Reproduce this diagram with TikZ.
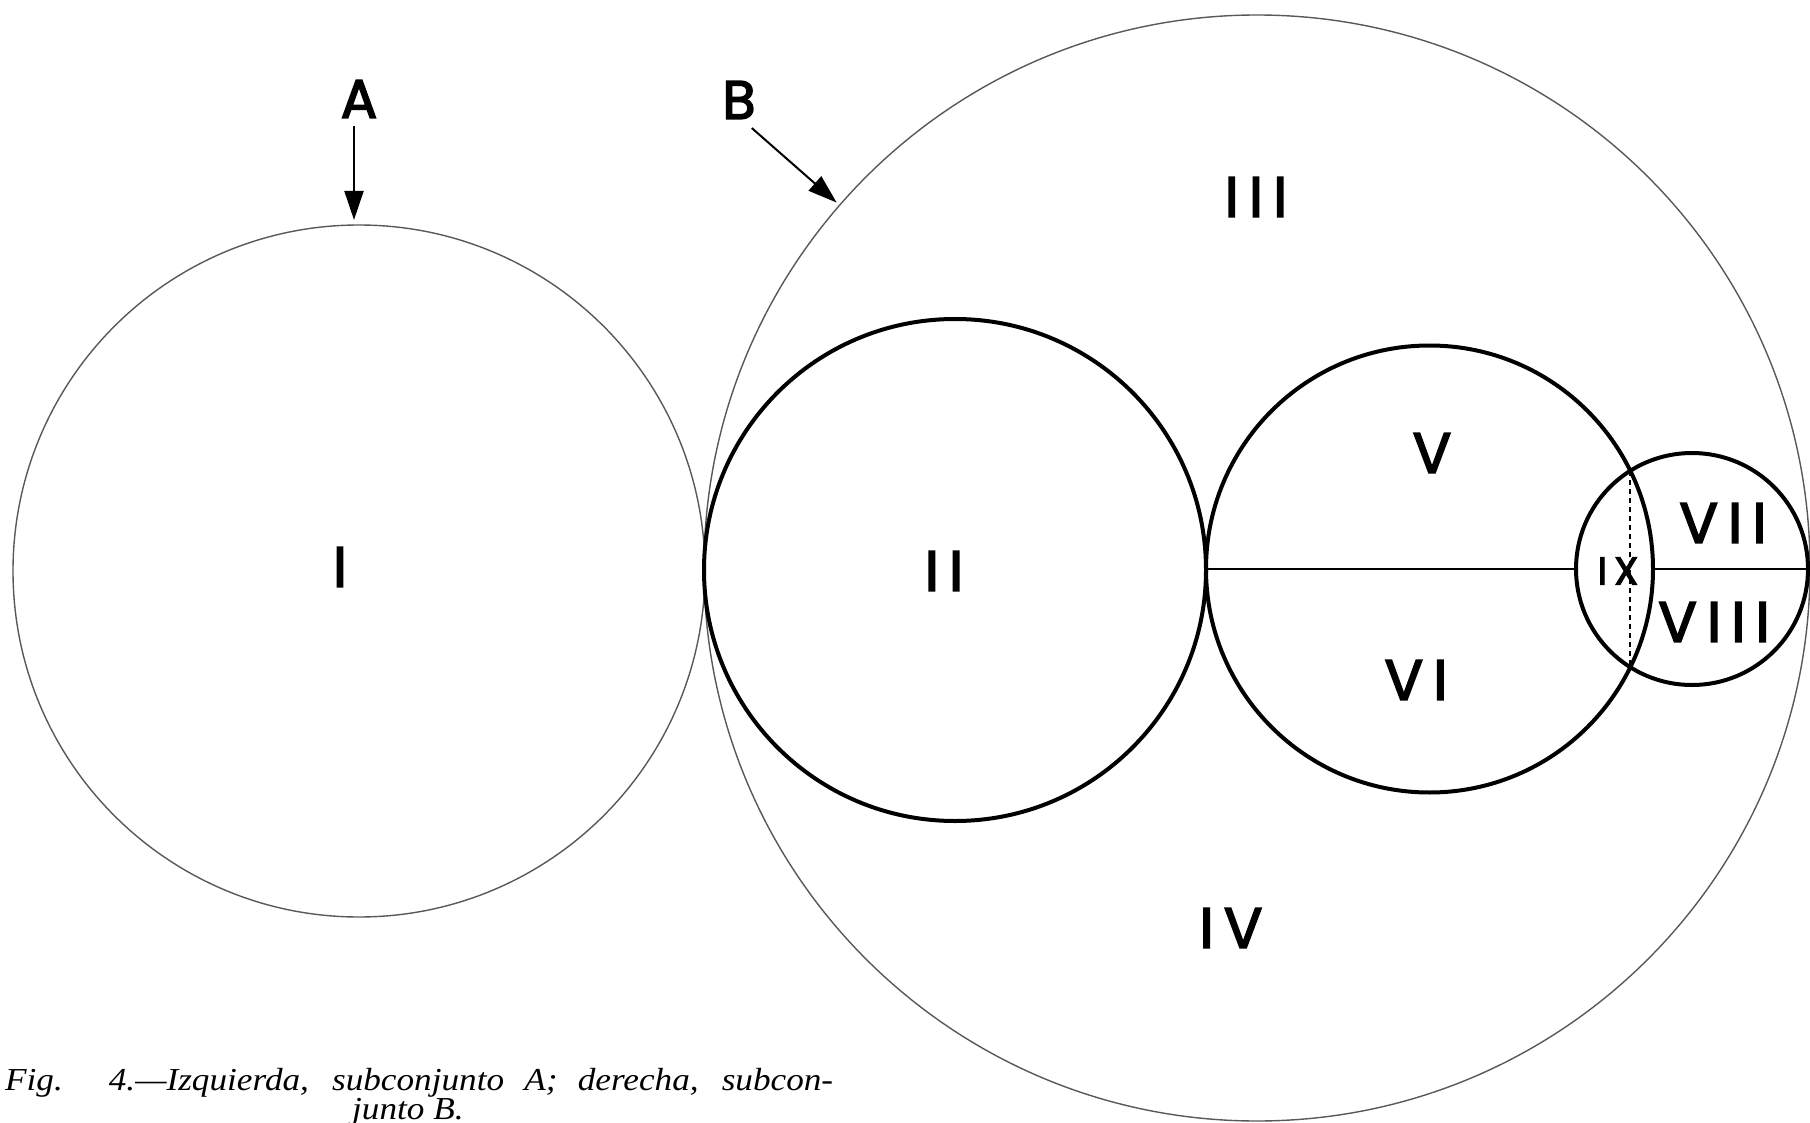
\documentclass[tikz,border=0pt]{standalone}
\usepackage{fontspec}
\setmainfont{Liberation Serif}
\newfontfamily\capfont{Liberation Serif}[FakeStretch=1.1]
\newfontfamily\labfont{Poppins}[LetterSpace=18, FakeBold=3]
\usetikzlibrary{arrows.meta}
\begin{document}
\begin{tikzpicture}[x=1pt,y=-1pt,
  thincirc/.style={draw=black!65, line width=1.4pt, circle, inner sep=0pt, outer sep=0pt},
  thickcirc/.style={draw=black, line width=4pt, circle, inner sep=0pt, outer sep=0pt},
  lab/.style={font=\labfont\fontsize{57}{57}\selectfont, inner sep=0pt},
  smalllab/.style={font=\labfont\fontsize{39}{39}\selectfont, inner sep=0pt},
  letter/.style={font=\labfont\fontsize{54}{54}\selectfont, inner sep=0pt},
  arr/.style={line width=2pt, -{Triangle[length=29pt,width=19pt]}},
  hline/.style={line width=2.5pt},
  dotline/.style={line width=2.2pt, dash pattern=on 5pt off 4pt},
  captext/.style={font=\capfont\itshape\fontsize{32}{32}\selectfont, inner sep=0pt}
]
\useasboundingbox[fill=white] (0,0) rectangle (1810,1123);

% circles
\node[thincirc, minimum size=692pt] (cI) at (359,571) {};
\node[thincirc, minimum size=1106pt] (cB) at (1257,568) {};
\node[thickcirc, minimum size=502pt] (cII) at (955,570) {};
\node[thickcirc, minimum size=447pt] (cV) at (1429.5,569) {};
\node[thickcirc, minimum size=232pt] (cVII) at (1692,569) {};

% horizontal dividers
\draw[hline] (cV.west) -- (cVII.west);
\draw[hline] (cV.east) -- (cVII.east);

% dotted chord
\coordinate (p1) at (1630,471);
\coordinate (p2) at (1630,667);
\draw[dotline] (p1) -- (p2);

% region labels
\node[lab] (lI) at (340,567) {I};
\node[lab] (lII) at (944,571) {II};
\node[lab] (lIII) at (1256,197) {III};
\node[lab] (lIV) at (1231,928) {IV};
\node[lab] (lV) at (1432,453) {V};
\node[lab] (lVI) at (1416,680) {VI};
\node[lab] (lVII) at (1723,523) {VII};
\node[lab] (lVIII) at (1714,622) {VIII};
\node[smalllab] (lIX) at (1618,571) {IX};

% A and B
\node[letter] (A) at (359,99) {A};
\node[letter] (B) at (739,100) {B};
\draw[arr, shorten <=8pt, shorten >=5pt] ([xshift=-5pt]A.south) -- ([xshift=-5pt]cI.north);
\draw[arr, shorten >=4pt] ([shift={(-4,9)}]B.south east) -- (cB.139);

% caption
\node[captext, anchor=base west] (cap1) at (5,1090) {\makebox[828pt][s]{Fig. 4.—Izquierda, subconjunto A; derecha, subcon-}};
\node[captext, anchor=base west] (cap2) at (352,1119) {junto B.};
\end{tikzpicture}
\end{document}
